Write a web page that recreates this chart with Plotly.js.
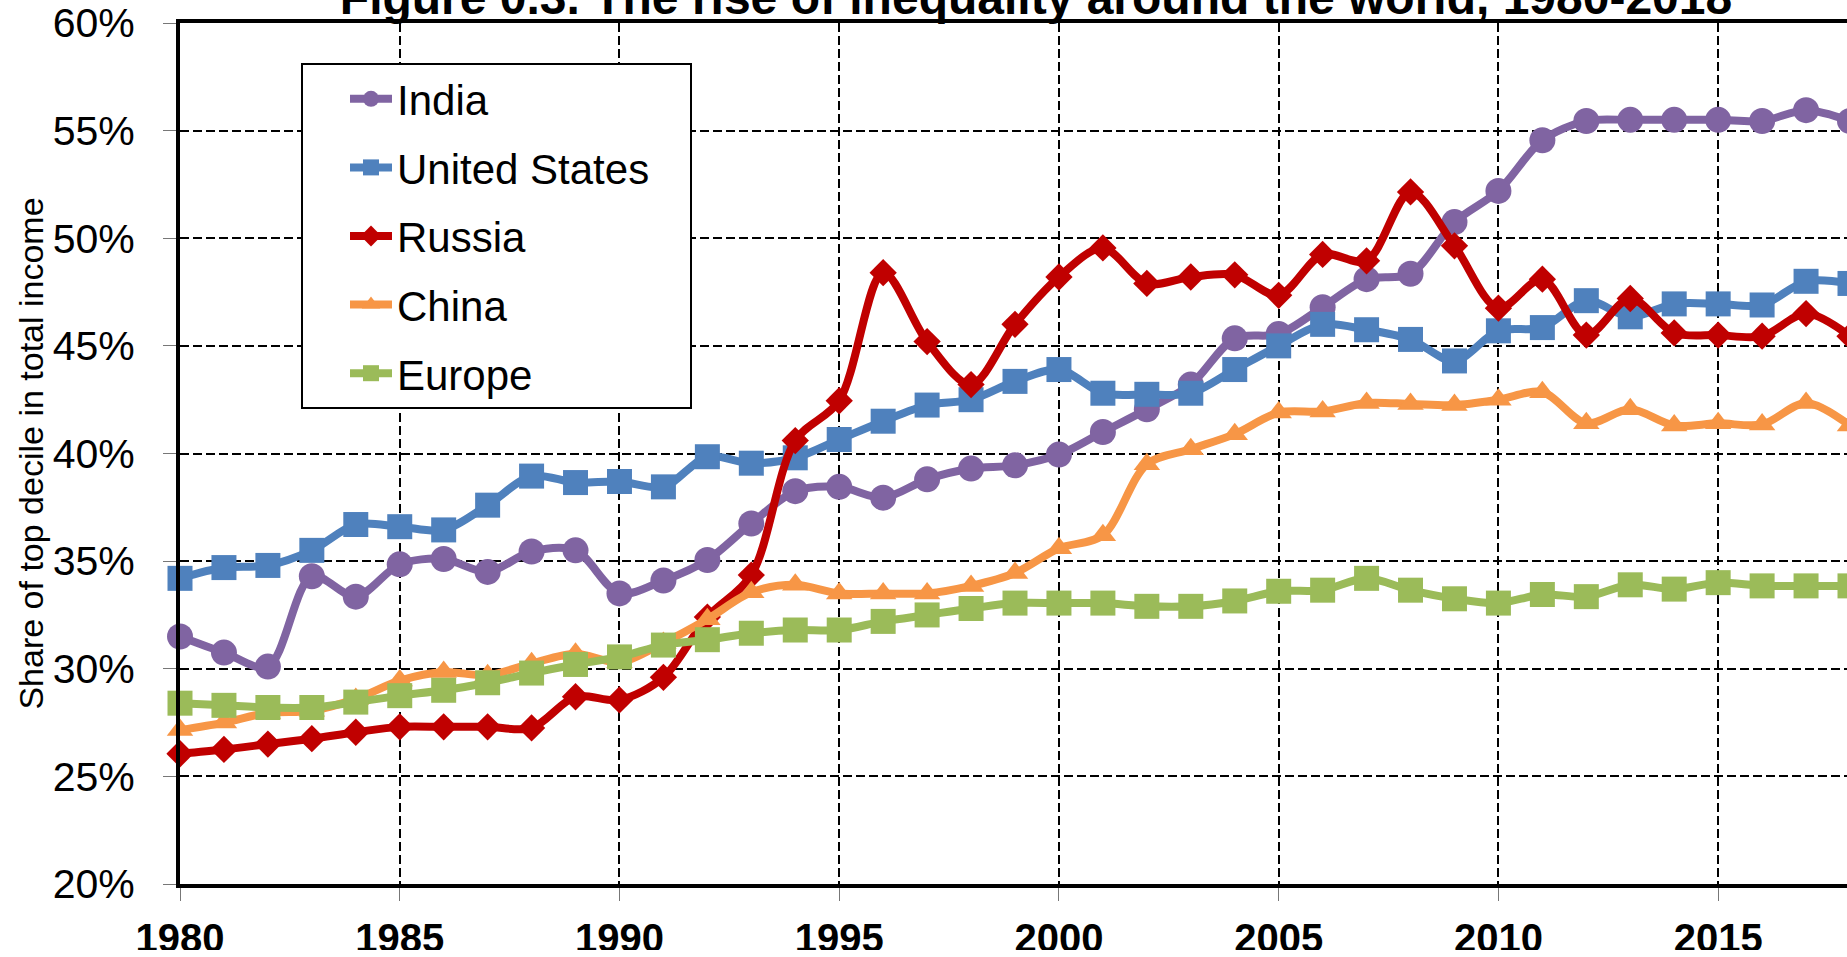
<!DOCTYPE html>
<html>
<head>
<meta charset="utf-8">
<script src="https://cdn.plot.ly/plotly-3.0.1.min.js"></script>
<style>
  html, body { margin: 0; padding: 0; background: #fff; overflow: hidden; width: 1847px; height: 957px; }
  #chart { position: absolute; left: 0; top: -50px; width: 1900px; height: 1000px; }
</style>
</head>
<body>
<div id="chart"></div>
<script>
const years = [1980, 1981, 1982, 1983, 1984, 1985, 1986, 1987, 1988, 1989,
               1990, 1991, 1992, 1993, 1994, 1995, 1996, 1997, 1998, 1999,
               2000, 2001, 2002, 2003, 2004, 2005, 2006, 2007, 2008, 2009,
               2010, 2011, 2012, 2013, 2014, 2015, 2016, 2017, 2018];

const india = [31.5, 30.75, 30.1, 34.3, 33.35, 34.85, 35.1, 34.5, 35.45, 35.5,
               33.5, 34.1, 35.05, 36.75, 38.25, 38.45, 37.95, 38.8, 39.3, 39.45,
               39.95, 41.0, 42.05, 43.2, 45.35, 45.55, 46.8, 48.1, 48.35, 50.75,
               52.2, 54.55, 55.45, 55.5, 55.5, 55.5, 55.45, 55.95, 55.45];

const unitedStates = [34.2, 34.7, 34.8, 35.5, 36.7, 36.6, 36.45, 37.6, 38.95, 38.65,
               38.7, 38.45, 39.85, 39.55, 39.8, 40.65, 41.5, 42.25, 42.5, 43.35,
               43.9, 42.8, 42.75, 42.8, 43.9, 45.0, 46.0, 45.75, 45.3, 44.3,
               45.7, 45.85, 47.1, 46.35, 46.95, 46.95, 46.9, 48.0, 47.9];

const russia = [26.05, 26.25, 26.5, 26.75, 27.05, 27.3, 27.3, 27.3, 27.25, 28.7,
               28.55, 29.6, 32.4, 34.35, 40.6, 42.45, 48.4, 45.2, 43.2, 46.0,
               48.2, 49.55, 47.9, 48.2, 48.3, 47.35, 49.25, 48.95, 52.15, 49.65,
               46.75, 48.1, 45.5, 47.2, 45.6, 45.5, 45.45, 46.5, 45.45];

const china = [27.15, 27.5, 27.95, 28.05, 28.6, 29.45, 29.85, 29.7, 30.25, 30.7,
               30.3, 31.2, 32.3, 33.55, 33.9, 33.5, 33.5, 33.5, 33.85, 34.45,
               35.6, 36.2, 39.5, 40.2, 40.9, 41.9, 41.95, 42.35, 42.3, 42.25,
               42.5, 42.85, 41.4, 42.05, 41.3, 41.4, 41.35, 42.35, 41.3];

const europe = [28.4, 28.3, 28.2, 28.2, 28.45, 28.75, 29.0, 29.35, 29.8, 30.2,
               30.55, 31.1, 31.35, 31.65, 31.8, 31.8, 32.2, 32.5, 32.8, 33.05,
               33.05, 33.05, 32.9, 32.9, 33.15, 33.6, 33.65, 34.2, 33.65, 33.25,
               33.05, 33.45, 33.35, 33.9, 33.7, 34.0, 33.85, 33.85, 33.85];

const seriesNames = ['India', 'United States', 'Russia', 'China', 'Europe'];
const seriesValues = [india, unitedStates, russia, china, europe];
const seriesColors = ['#8064A2', '#4F81BD', '#C00000', '#F79646', '#9BBB59'];
const seriesSymbols = ['circle', 'square', 'diamond', 'triangle-up', 'square'];
const seriesSizes = [26, 25, 21, 23, 25];

const titleText = 'Figure 0.3. The rise of inequality around the world, 1980-2018';
const yTitleText = 'Share of top decile in total income';

const FONT = 'Liberation Sans, Arial, Helvetica, sans-serif';
// trailing no-break spaces only widen the legend box (invisible)
const LEGEND_PAD = '\u00A0\u00A0\u00A0';

const traces = seriesNames.map((name, i) => ({
  type: 'scatter',
  mode: 'lines+markers',
  name: name + LEGEND_PAD,
  legendgroup: 'g' + i,
  x: years,
  y: seriesValues[i],
  cliponaxis: false,
  line: { color: seriesColors[i], width: 8, shape: 'spline', smoothing: 0.9 },
  marker: { color: seriesColors[i], symbol: seriesSymbols[i], size: seriesSizes[i] },
  hoverinfo: 'skip'
}));

const layout = {
  width: 1900,
  height: 1000,
  margin: { l: 180, r: 50, t: 73, b: 66, pad: 0 },
  paper_bgcolor: '#ffffff',
  plot_bgcolor: '#ffffff',
  font: { family: FONT, color: '#000000' },
  showlegend: true,
  title: {
    text: titleText,
    font: { family: FONT, size: 48, weight: 'bold', color: '#000000' },
    xref: 'container', x: 1036 / 1900, xanchor: 'center',
    yref: 'container', y: 1 - 64 / 1000, yanchor: 'bottom'
  },
  xaxis: {
    range: [1980, 2018],
    tick0: 1980, dtick: 5,
    showline: true, linecolor: '#000000', linewidth: 4, mirror: true,
    showgrid: true, gridcolor: '#000000', gridwidth: 2, griddash: '9px,4px',
    zeroline: false,
    ticks: 'outside', ticklen: 13, tickwidth: 1, tickcolor: '#777777',
    ticklabelstandoff: 3,
    tickfont: { family: FONT, size: 40, weight: 'bold', color: '#000000' },
    automargin: false,
    fixedrange: true
  },
  yaxis: {
    range: [20, 60],
    tick0: 20, dtick: 5,
    ticksuffix: '%',
    showline: true, linecolor: '#000000', linewidth: 4, mirror: true,
    showgrid: true, gridcolor: '#000000', gridwidth: 2, griddash: '9px,4px',
    zeroline: false,
    ticks: 'outside', ticklen: 13, tickwidth: 1, tickcolor: '#777777',
    ticklabelstandoff: 20,
    tickfont: { family: FONT, size: 41, color: '#000000' },
    title: { text: yTitleText, font: { family: FONT, size: 34, color: '#000000' }, standoff: 0 },
    automargin: false,
    fixedrange: true
  },
  legend: {
    x: (301 - 180) / 1670, y: 1 - (113 - 73) / 861,
    xanchor: 'left', yanchor: 'top',
    bgcolor: '#ffffff', bordercolor: '#000000', borderwidth: 2,
    font: { family: FONT, size: 42, color: '#000000' },
    traceorder: 'grouped',
    tracegroupgap: 11,
    itemwidth: 42,
    indentation: 42
  }
};

Plotly.newPlot('chart', traces, layout, { displayModeBar: false, staticPlot: true });
</script>
</body>
</html>
